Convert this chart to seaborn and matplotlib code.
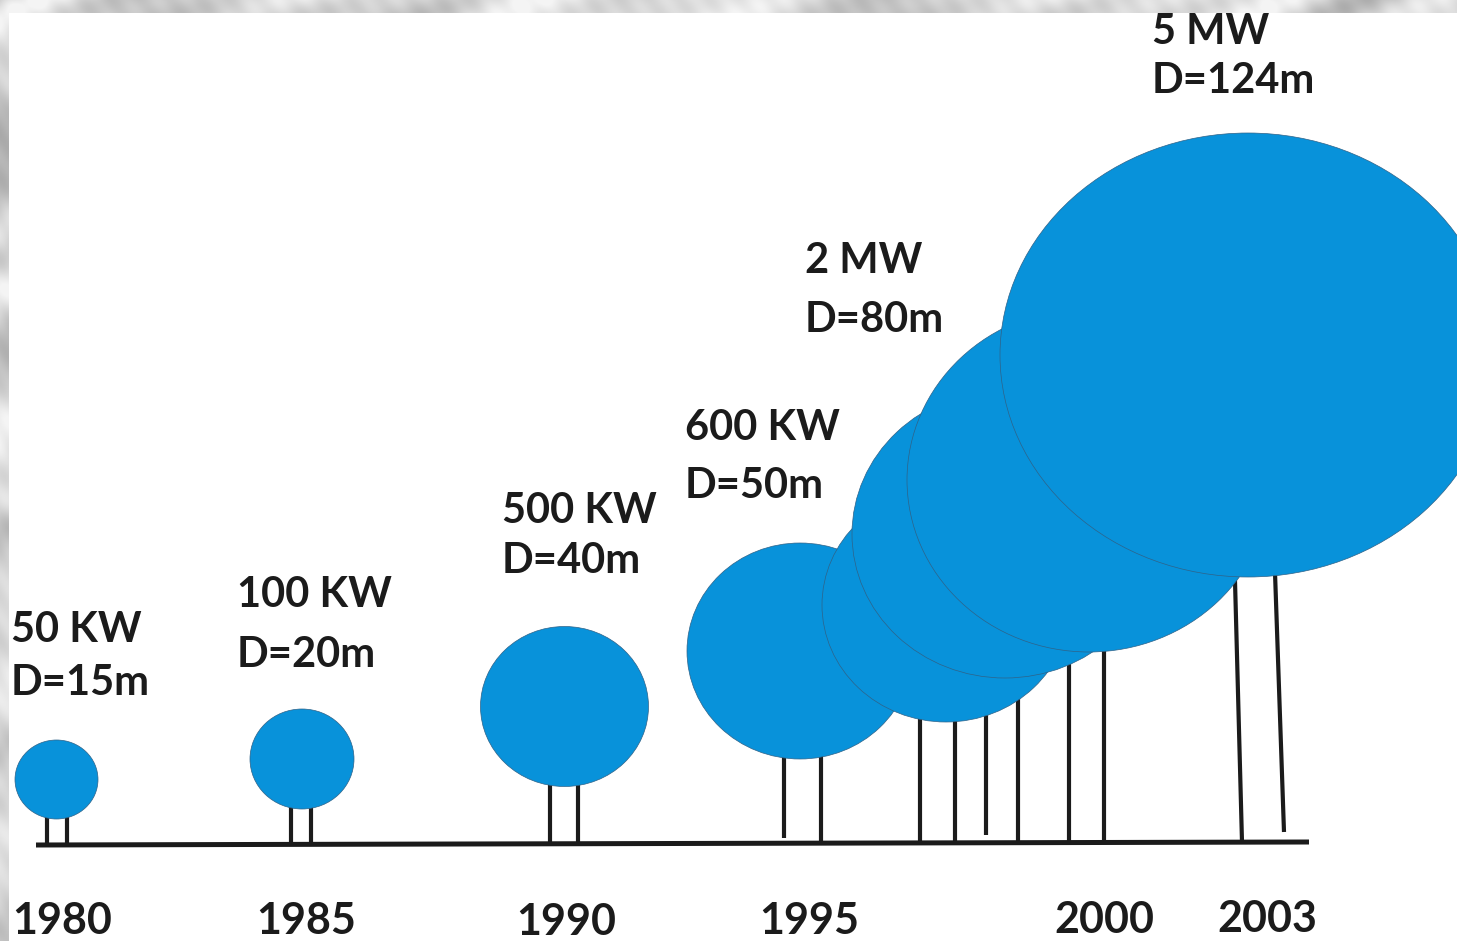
import numpy as np
import pandas as pd
import matplotlib
matplotlib.use("Agg")
import matplotlib.pyplot as plt
from matplotlib.patches import Ellipse
import seaborn as sns

# ---- data: turbine generations -------------------------------------------
year_labels = ["1980", "1985", "1990", "1995", "2000", "2003"]
power_labels = ["50 KW", "100 KW", "500 KW", "600 KW", "2 MW", "5 MW"]
rotor_diameters_m = [15, 20, 40, 50, 80, 124]

# ---- layout (canvas units = pixels, y downward) ----------------------------
W, H = 1457, 941
# rotor discs, drawn left to right so later generations sit on top
disc_cx = [56.5, 302, 564.5, 800, 946, 1005, 1089, 1248]
disc_cy = [779.5, 759, 706.5, 651, 605, 534, 480, 355]
disc_rx = [41.5, 52, 84, 113, 124, 153, 182, 248]
disc_ry = [39.5, 50, 80, 108, 117, 144, 172, 222]
# tower legs: owner disc, x at top, x at foot, foot level
leg_owner = [0, 0, 1, 1, 2, 2, 3, 3, 4, 4, 5, 5, 6, 6, 7, 7]
leg_x_top = [46.7, 66.7, 291, 311, 550, 578, 784, 821, 920, 955, 986, 1018, 1069, 1104, 1234, 1274]
leg_x_bot = [46.7, 66.7, 291, 311, 550, 578, 784, 821, 920, 955, 986, 1018, 1069, 1104, 1242, 1284]
leg_y_bot = [845, 845, 844, 844, 843, 843, 838, 842, 842, 842, 835, 842, 842, 843, 842, 832]
ground_x = [36, 1309]
ground_y = [845, 842]
# annotation anchors
label_x = [11, 237, 502, 685, 805, 1152]
power_base = [642, 607, 523, 440, 273, 44]
diam_base = [695, 667, 573, 498, 332, 93]
year_cx = [62, 306, 566, 809, 1104, 1267]
year_base = [934, 934, 935, 934, 933, 932]

BLUE = "#0892da"
EDGE = "#2f6288"
INK = "#1b1b1b"

sns.set_theme(style="white")
plt.rcParams["font.family"] = ["Lato", "DejaVu Sans"]

fig = plt.figure(figsize=(W / 100, H / 100), dpi=100)
fig.patch.set_facecolor("white")
ax = fig.add_axes([0, 0, 1, 1])
ax.set_facecolor("white")

# tower legs
rows = []
for i, (o, xt, xb, yb) in enumerate(zip(leg_owner, leg_x_top, leg_x_bot, leg_y_bot)):
    y_top = disc_cy[o] + 0.85 * disc_ry[o]
    rows.append({"x": xt, "y": y_top, "leg": i})
    rows.append({"x": xb, "y": yb, "leg": i})
legs = pd.DataFrame(rows)
sns.lineplot(data=legs, x="x", y="y", units="leg", estimator=None, sort=False,
             color=INK, linewidth=3.0, solid_capstyle="butt", legend=False,
             ax=ax, zorder=1)

# ground line
sns.lineplot(x=ground_x, y=ground_y, color=INK, linewidth=3.6,
             solid_capstyle="butt", ax=ax, zorder=1)

# rotor discs
for cx, cy, rx, ry in zip(disc_cx, disc_cy, disc_rx, disc_ry):
    ax.add_patch(Ellipse((cx, cy), 2 * rx, 2 * ry, facecolor=BLUE,
                         edgecolor=EDGE, linewidth=0.5, zorder=2))

# ratings and rotor diameters
for x, yp, yd, p, d in zip(label_x, power_base, diam_base, power_labels, rotor_diameters_m):
    ax.text(x, yp, p, fontsize=30, fontweight="bold", color=INK,
            ha="left", va="baseline", zorder=3)
    ax.text(x, yd, f"D={d}m", fontsize=30, fontweight="bold", color=INK,
            ha="left", va="baseline", zorder=3)

# years
for x, y, t in zip(year_cx, year_base, year_labels):
    ax.text(x, y, t, fontsize=31, fontweight="bold", color=INK,
            ha="center", va="baseline", zorder=3)

ax.set_xlim(0, W)
ax.set_ylim(H, 0)
ax.axis("off")

# mottled grey stone frame along the top and left edges
yy, xx = np.mgrid[0:H, 0:W].astype(float)
tone = (0.83
        + 0.06 * np.sin(0.018 * xx + 2.2 * np.sin(0.031 * yy + 0.009 * xx))
        + 0.05 * np.sin(0.027 * yy + 0.012 * xx + 2.0 * np.sin(0.014 * xx + 0.02 * yy))
        + 0.04 * np.sin(0.05 * xx + 0.04 * yy + 3.0 * np.sin(0.025 * yy))
        + 0.02 * np.sin(0.21 * xx - 0.15 * yy))
tone = np.clip(tone, 0.62, 0.96)
frame = ((yy < 13) | (xx < 9)).astype(float)
rgba = np.dstack([tone, tone, tone, frame])
ov = fig.add_axes([0, 0, 1, 1], zorder=5)
ov.imshow(rgba, extent=(0, W, H, 0), aspect="auto", interpolation="bilinear")
ov.set_xlim(0, W)
ov.set_ylim(H, 0)
ov.axis("off")
ov.patch.set_alpha(0)

fig.savefig("out.png", dpi=100, facecolor="white")
